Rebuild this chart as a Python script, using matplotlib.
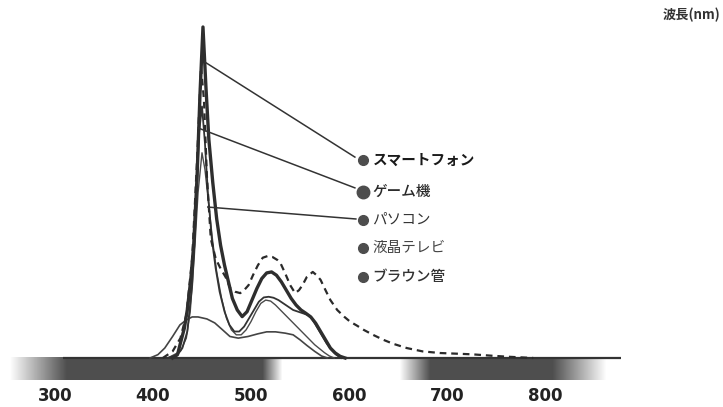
import numpy as np
import matplotlib
matplotlib.use("Agg")
import matplotlib.pyplot as plt

plt.rcParams['font.family'] = ['Noto Sans CJK JP', 'DejaVu Sans']

# wavelength (nm) / relative intensity (%)
smart_wl = [420, 425, 428, 432, 435, 438.5, 441.5, 445, 448, 451, 454, 457, 461, 465, 469, 473,
            477, 481, 486, 491, 496, 501, 506, 511, 516, 521, 526, 531, 536, 541, 546, 551,
            556, 561, 566, 571, 576, 581, 586, 591, 596]
smart_iv = [0, 1, 4.5, 9, 14.5, 23.5, 34, 55, 80, 100, 82, 66, 53, 42, 34, 28,
            23, 18, 14.5, 12.5, 14, 17.5, 21, 24, 25.7, 26, 25, 23, 20.5, 18, 16, 14.5,
            13.5, 12.4, 10.5, 8, 5.5, 3, 1.5, 0.5, 0]

game_wl = [415, 425, 430, 435, 440, 444, 447, 450, 453, 456, 460, 464, 468, 473, 478, 483,
           488, 493, 498, 503, 508, 513, 518, 523, 528, 533, 538, 543, 548, 553, 558, 562,
           567, 572, 577, 582, 587, 592]
game_iv = [0, 1, 3, 8, 22, 45, 68, 76, 65, 50, 36, 27, 20, 14, 10, 8,
           8, 9.5, 12, 14.5, 17, 18.3, 18.5, 18.2, 17.5, 16.5, 15.5, 14.5, 14, 13.5, 13, 12,
           9.5, 7, 4.5, 2.5, 1, 0]

pc_wl = [415, 428, 434, 438, 442, 446, 450, 453, 457, 461, 465, 470, 475, 480, 485, 490,
         495, 500, 505, 510, 515, 520, 525, 530, 535, 540, 545, 550, 555, 560, 565, 570,
         575, 580, 585]
pc_iv = [0, 2, 6, 14, 30, 50, 62, 57, 46, 35, 26, 18, 12, 8.5, 7, 7,
         8.5, 11, 14, 16.5, 17.5, 17.2, 16, 14.5, 13, 11.5, 10, 8.5, 7, 5.5, 4, 2.8,
         1.6, 0.6, 0]

lcd_wl = [397, 405, 412, 420, 427.5, 434, 440, 446, 455, 463, 471, 478.5, 487, 497, 507, 516,
          525, 535, 543, 550, 557, 565, 572, 578]
lcd_iv = [0, 1, 3, 6.5, 10, 11.5, 12.4, 12.4, 11.8, 10.6, 8.5, 6.5, 6, 6.5, 7.3, 7.9,
          7.9, 7.5, 7, 5.5, 3.8, 2, 0.6, 0]

crt_wl = [410, 420, 428, 434, 440, 445, 449, 452, 455, 459, 464, 469, 474, 479, 484, 489,
          493, 497.5, 502, 507, 512, 517, 522, 527, 530, 535, 540, 545, 549, 552.5, 557, 563,
          567, 571, 576, 581, 588, 595, 601, 608, 615, 624.5, 635, 645, 659, 675, 693, 710,
          726, 745, 761, 788]
crt_iv = [0, 2, 6, 13, 30, 60, 88, 78, 55, 36, 30, 27, 24.5, 21, 20, 19.6,
          20.5, 22, 25, 28, 30.3, 30.8, 30.5, 29.6, 28.7, 25.5, 22, 19.6, 20.5, 22, 24.5, 26,
          25, 23.6, 20.5, 17.5, 14.5, 12.5, 11, 9.8, 8.5, 7, 5.5, 4.3, 3, 2, 1.5, 1.3,
          1.1, 0.7, 0.4, 0]

labels = ['スマートフォン', 'ゲーム機', 'パソコン', '液晶テレビ', 'ブラウン管']
label_y = [59.8, 50.2, 41.7, 33.2, 24.5]
# leader lines: point on curve -> label
leaders = [((453, 89.4), (606, 60.7)),
           ((446, 69.5), (606, 51.4)),
           ((456, 45.6), (607, 42.0))]

ticks = [300, 400, 500, 600, 700, 800]

# shaded spectrum strip under the axis (edges in nm)
strip_edges = [254, 312, 512, 532, 652, 683, 808, 863]
strip_alpha = [0, 1, 1, 0, 0, 1, 1, 0]

fig = plt.figure(figsize=(7.23, 4.07), dpi=100)
ax = fig.add_axes([0, 22 / 407, 1, 385 / 407])
ax.set_xlim(243.9, 981.6)
ax.set_ylim(-8.16, 108.16)
for s in ax.spines.values():
    s.set_visible(False)
ax.set_yticks([])
ax.set_xticks(ticks)
ax.set_xticklabels([str(t) for t in ticks], fontsize=12, fontweight='bold',
                   color='#222222', family='DejaVu Sans')
ax.tick_params(axis='x', length=0, pad=1.5)

# strip
wl = np.arange(245, 875, 0.5)
a = np.interp(wl, strip_edges, strip_alpha)
img = np.zeros((1, len(wl), 4))
img[..., :3] = 0.27
img[..., 3] = a * 0.95
ax.imshow(img, extent=[wl[0], wl[-1], -6.65, 0], aspect='auto', interpolation='bilinear', zorder=1)

# baseline
ax.plot([308, 878], [0, 0], color='#333333', lw=1.6, zorder=2, solid_capstyle='butt')

ax.plot(lcd_wl, lcd_iv, color='#444444', lw=1.2, zorder=3)
ax.plot(pc_wl, pc_iv, color='#4a4a4a', lw=1.0, zorder=3)
ax.plot(game_wl, game_iv, color='#333333', lw=1.3, zorder=3)
ax.plot(crt_wl, crt_iv, color='#2a2a2a', lw=1.6, ls=(0, (3, 2.2)), zorder=3)
ax.plot(smart_wl, smart_iv, color='#2e2e2e', lw=2.4, zorder=4)

for (p0, p1) in leaders:
    ax.plot([p0[0], p1[0]], [p0[1], p1[1]], color='#333333', lw=1.1, zorder=4)

msizes = [7, 9, 7, 7, 7]
weights = ['bold', 'medium', 'normal', 'normal', 'medium']
tcols = ['#1a1a1a', '#2a2a2a', '#333333', '#444444', '#333333']
for lab, y, ms, w, c in zip(labels, label_y, msizes, weights, tcols):
    ax.plot([614], [y], 'o', color='#4d4d4d', ms=ms, zorder=5)
    ax.text(624, y, lab, fontsize=10.5, fontweight=w, color=c, va='center', ha='left')

fig.text(663 / 723, 1 - 15 / 407, '波長(nm)', fontsize=9.5, fontweight='bold',
         color='#333333', va='center', ha='left')

fig.savefig('out.png', dpi=100)
